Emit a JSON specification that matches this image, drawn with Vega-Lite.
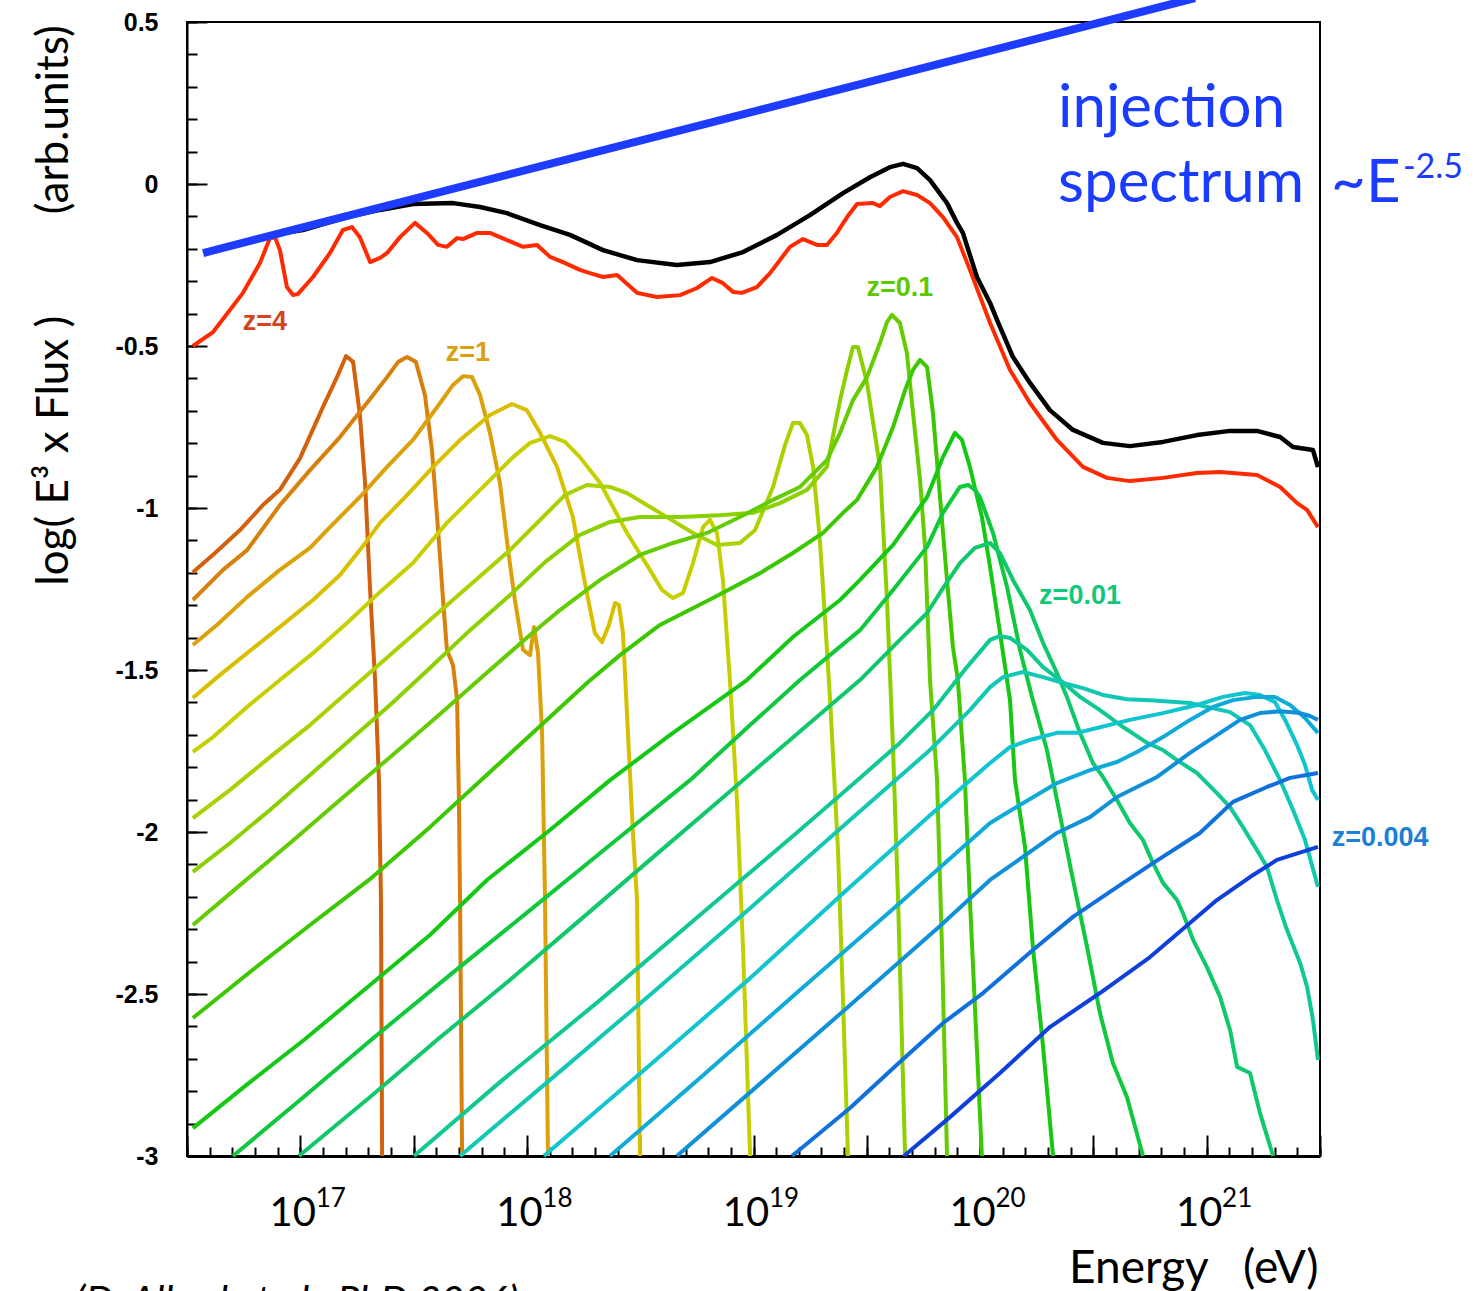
{
  "$schema": "https://vega.github.io/schema/vega-lite/v6.json",
  "width": 1133,
  "height": 1134,
  "autosize": {"type": "none"},
  "padding": {"left": 187, "top": 22, "right": 157, "bottom": 135},
  "background": "white",
  "config": {"view": {"stroke": "black", "strokeWidth": 2}, "axis": {"grid": false}},
  "resolve": {"axis": {"x": "independent", "y": "independent"}, "scale": {"color": "independent"}},
  "datasets": {
    "curves": [
      {"s":"c01","e":16.526,"f":-1.198},{"s":"c01","e":16.624,"f":-1.139},{"s":"c01","e":16.734,"f":-1.068},{"s":"c01","e":16.835,"f":-0.991},{"s":"c01","e":16.910,"f":-0.944},{"s":"c01","e":16.999,"f":-0.846},{"s":"c01","e":17.100,"f":-0.688},{"s":"c01","e":17.162,"f":-0.596},{"s":"c01","e":17.202,"f":-0.531},{"s":"c01","e":17.233,"f":-0.549},{"s":"c01","e":17.263,"f":-0.713},{"s":"c01","e":17.286,"f":-0.923},{"s":"c01","e":17.308,"f":-1.253},{"s":"c01","e":17.330,"f":-1.531},{"s":"c01","e":17.347,"f":-1.840},{"s":"c01","e":17.356,"f":-2.210},{"s":"c01","e":17.361,"f":-3.0},
      {"s":"c02","e":16.526,"f":-1.284},{"s":"c02","e":16.659,"f":-1.191},{"s":"c02","e":16.765,"f":-1.130},{"s":"c02","e":16.910,"f":-0.991},{"s":"c02","e":17.043,"f":-0.883},{"s":"c02","e":17.175,"f":-0.781},{"s":"c02","e":17.294,"f":-0.676},{"s":"c02","e":17.383,"f":-0.596},{"s":"c02","e":17.432,"f":-0.549},{"s":"c02","e":17.471,"f":-0.534},{"s":"c02","e":17.510,"f":-0.549},{"s":"c02","e":17.550,"f":-0.651},{"s":"c02","e":17.581,"f":-0.821},{"s":"c02","e":17.608,"f":-1.068},{"s":"c02","e":17.630,"f":-1.284},{"s":"c02","e":17.647,"f":-1.438},{"s":"c02","e":17.674,"f":-1.485},{"s":"c02","e":17.692,"f":-1.593},{"s":"c02","e":17.700,"f":-1.901},{"s":"c02","e":17.705,"f":-2.210},{"s":"c02","e":17.714,"f":-3.0},
      {"s":"c03","e":16.526,"f":-1.423},{"s":"c03","e":16.632,"f":-1.361},{"s":"c03","e":16.765,"f":-1.275},{"s":"c03","e":16.910,"f":-1.191},{"s":"c03","e":17.043,"f":-1.123},{"s":"c03","e":17.131,"f":-1.059},{"s":"c03","e":17.263,"f":-0.966},{"s":"c03","e":17.383,"f":-0.873},{"s":"c03","e":17.497,"f":-0.790},{"s":"c03","e":17.617,"f":-0.676},{"s":"c03","e":17.674,"f":-0.620},{"s":"c03","e":17.718,"f":-0.593},{"s":"c03","e":17.758,"f":-0.596},{"s":"c03","e":17.793,"f":-0.651},{"s":"c03","e":17.837,"f":-0.768},{"s":"c03","e":17.881,"f":-0.923},{"s":"c03","e":17.917,"f":-1.130},{"s":"c03","e":17.947,"f":-1.284},{"s":"c03","e":17.983,"f":-1.438},{"s":"c03","e":18.014,"f":-1.454},{"s":"c03","e":18.031,"f":-1.367},{"s":"c03","e":18.049,"f":-1.448},{"s":"c03","e":18.067,"f":-1.694},{"s":"c03","e":18.080,"f":-2.210},{"s":"c03","e":18.093,"f":-3.0},
      {"s":"c04","e":16.526,"f":-1.586},{"s":"c04","e":16.646,"f":-1.515},{"s":"c04","e":16.765,"f":-1.448},{"s":"c04","e":16.910,"f":-1.367},{"s":"c04","e":17.056,"f":-1.284},{"s":"c04","e":17.175,"f":-1.207},{"s":"c04","e":17.263,"f":-1.130},{"s":"c04","e":17.352,"f":-1.046},{"s":"c04","e":17.471,"f":-0.960},{"s":"c04","e":17.586,"f":-0.873},{"s":"c04","e":17.705,"f":-0.790},{"s":"c04","e":17.837,"f":-0.713},{"s":"c04","e":17.934,"f":-0.679},{"s":"c04","e":18.000,"f":-0.698},{"s":"c04","e":18.058,"f":-0.768},{"s":"c04","e":18.133,"f":-0.873},{"s":"c04","e":18.203,"f":-1.028},{"s":"c04","e":18.256,"f":-1.232},{"s":"c04","e":18.300,"f":-1.386},{"s":"c04","e":18.331,"f":-1.414},{"s":"c04","e":18.362,"f":-1.361},{"s":"c04","e":18.389,"f":-1.293},{"s":"c04","e":18.406,"f":-1.299},{"s":"c04","e":18.424,"f":-1.386},{"s":"c04","e":18.446,"f":-1.694},{"s":"c04","e":18.468,"f":-2.003},{"s":"c04","e":18.486,"f":-2.210},{"s":"c04","e":18.499,"f":-3.0},
      {"s":"c05","e":16.526,"f":-1.753},{"s":"c05","e":16.615,"f":-1.707},{"s":"c05","e":16.765,"f":-1.614},{"s":"c05","e":16.910,"f":-1.531},{"s":"c05","e":17.056,"f":-1.448},{"s":"c05","e":17.206,"f":-1.355},{"s":"c05","e":17.352,"f":-1.259},{"s":"c05","e":17.497,"f":-1.170},{"s":"c05","e":17.647,"f":-1.046},{"s":"c05","e":17.749,"f":-0.975},{"s":"c05","e":17.837,"f":-0.914},{"s":"c05","e":17.939,"f":-0.843},{"s":"c05","e":18.014,"f":-0.799},{"s":"c05","e":18.102,"f":-0.778},{"s":"c05","e":18.168,"f":-0.796},{"s":"c05","e":18.234,"f":-0.843},{"s":"c05","e":18.323,"f":-0.923},{"s":"c05","e":18.442,"f":-1.077},{"s":"c05","e":18.543,"f":-1.191},{"s":"c05","e":18.596,"f":-1.253},{"s":"c05","e":18.645,"f":-1.278},{"s":"c05","e":18.689,"f":-1.262},{"s":"c05","e":18.733,"f":-1.170},{"s":"c05","e":18.777,"f":-1.059},{"s":"c05","e":18.808,"f":-1.037},{"s":"c05","e":18.839,"f":-1.077},{"s":"c05","e":18.865,"f":-1.222},{"s":"c05","e":18.896,"f":-1.531},{"s":"c05","e":18.927,"f":-1.901},{"s":"c05","e":18.954,"f":-2.364},{"s":"c05","e":18.985,"f":-3.0},
      {"s":"c06","e":16.526,"f":-1.957},{"s":"c06","e":16.690,"f":-1.870},{"s":"c06","e":16.866,"f":-1.769},{"s":"c06","e":17.043,"f":-1.670},{"s":"c06","e":17.219,"f":-1.562},{"s":"c06","e":17.396,"f":-1.454},{"s":"c06","e":17.572,"f":-1.346},{"s":"c06","e":17.749,"f":-1.238},{"s":"c06","e":17.925,"f":-1.130},{"s":"c06","e":18.058,"f":-1.037},{"s":"c06","e":18.168,"f":-0.960},{"s":"c06","e":18.265,"f":-0.929},{"s":"c06","e":18.367,"f":-0.935},{"s":"c06","e":18.442,"f":-0.954},{"s":"c06","e":18.587,"f":-1.015},{"s":"c06","e":18.733,"f":-1.077},{"s":"c06","e":18.839,"f":-1.114},{"s":"c06","e":18.940,"f":-1.108},{"s":"c06","e":19.007,"f":-1.068},{"s":"c06","e":19.086,"f":-0.935},{"s":"c06","e":19.139,"f":-0.806},{"s":"c06","e":19.174,"f":-0.738},{"s":"c06","e":19.205,"f":-0.738},{"s":"c06","e":19.236,"f":-0.775},{"s":"c06","e":19.263,"f":-0.873},{"s":"c06","e":19.293,"f":-1.099},{"s":"c06","e":19.316,"f":-1.346},{"s":"c06","e":19.338,"f":-1.593},{"s":"c06","e":19.373,"f":-2.056},{"s":"c06","e":19.395,"f":-2.519},{"s":"c06","e":19.417,"f":-3.0},
      {"s":"c07","e":16.526,"f":-2.123},{"s":"c07","e":16.690,"f":-2.034},{"s":"c07","e":16.866,"f":-1.932},{"s":"c07","e":17.043,"f":-1.824},{"s":"c07","e":17.219,"f":-1.716},{"s":"c07","e":17.396,"f":-1.608},{"s":"c07","e":17.572,"f":-1.494},{"s":"c07","e":17.749,"f":-1.377},{"s":"c07","e":17.925,"f":-1.269},{"s":"c07","e":18.080,"f":-1.167},{"s":"c07","e":18.234,"f":-1.083},{"s":"c07","e":18.367,"f":-1.043},{"s":"c07","e":18.499,"f":-1.028},{"s":"c07","e":18.676,"f":-1.028},{"s":"c07","e":18.852,"f":-1.022},{"s":"c07","e":18.998,"f":-1.015},{"s":"c07","e":19.117,"f":-0.985},{"s":"c07","e":19.236,"f":-0.944},{"s":"c07","e":19.324,"f":-0.873},{"s":"c07","e":19.382,"f":-0.667},{"s":"c07","e":19.413,"f":-0.574},{"s":"c07","e":19.439,"f":-0.503},{"s":"c07","e":19.461,"f":-0.503},{"s":"c07","e":19.501,"f":-0.614},{"s":"c07","e":19.558,"f":-0.873},{"s":"c07","e":19.589,"f":-1.284},{"s":"c07","e":19.616,"f":-1.747},{"s":"c07","e":19.638,"f":-2.210},{"s":"c07","e":19.669,"f":-3.0},
      {"s":"c08","e":16.526,"f":-2.287},{"s":"c08","e":16.734,"f":-2.164},{"s":"c08","e":16.955,"f":-2.034},{"s":"c08","e":17.175,"f":-1.901},{"s":"c08","e":17.396,"f":-1.769},{"s":"c08","e":17.617,"f":-1.636},{"s":"c08","e":17.837,"f":-1.500},{"s":"c08","e":18.014,"f":-1.392},{"s":"c08","e":18.146,"f":-1.315},{"s":"c08","e":18.323,"f":-1.222},{"s":"c08","e":18.499,"f":-1.145},{"s":"c08","e":18.645,"f":-1.108},{"s":"c08","e":18.795,"f":-1.077},{"s":"c08","e":18.940,"f":-1.028},{"s":"c08","e":19.086,"f":-0.975},{"s":"c08","e":19.205,"f":-0.935},{"s":"c08","e":19.324,"f":-0.852},{"s":"c08","e":19.382,"f":-0.768},{"s":"c08","e":19.439,"f":-0.667},{"s":"c08","e":19.501,"f":-0.596},{"s":"c08","e":19.558,"f":-0.491},{"s":"c08","e":19.589,"f":-0.426},{"s":"c08","e":19.611,"f":-0.404},{"s":"c08","e":19.646,"f":-0.429},{"s":"c08","e":19.677,"f":-0.522},{"s":"c08","e":19.704,"f":-0.707},{"s":"c08","e":19.735,"f":-0.914},{"s":"c08","e":19.757,"f":-1.120},{"s":"c08","e":19.779,"f":-1.531},{"s":"c08","e":19.810,"f":-1.840},{"s":"c08","e":19.832,"f":-2.364},{"s":"c08","e":19.854,"f":-3.0},
      {"s":"c09","e":16.526,"f":-2.574},{"s":"c09","e":16.778,"f":-2.432},{"s":"c09","e":17.043,"f":-2.287},{"s":"c09","e":17.303,"f":-2.148},{"s":"c09","e":17.572,"f":-1.985},{"s":"c09","e":17.837,"f":-1.815},{"s":"c09","e":18.102,"f":-1.645},{"s":"c09","e":18.265,"f":-1.540},{"s":"c09","e":18.411,"f":-1.454},{"s":"c09","e":18.587,"f":-1.361},{"s":"c09","e":18.821,"f":-1.278},{"s":"c09","e":19.029,"f":-1.201},{"s":"c09","e":19.174,"f":-1.139},{"s":"c09","e":19.307,"f":-1.077},{"s":"c09","e":19.395,"f":-1.015},{"s":"c09","e":19.457,"f":-0.975},{"s":"c09","e":19.545,"f":-0.873},{"s":"c09","e":19.616,"f":-0.750},{"s":"c09","e":19.669,"f":-0.636},{"s":"c09","e":19.704,"f":-0.574},{"s":"c09","e":19.735,"f":-0.543},{"s":"c09","e":19.766,"f":-0.565},{"s":"c09","e":19.792,"f":-0.707},{"s":"c09","e":19.823,"f":-0.966},{"s":"c09","e":19.854,"f":-1.222},{"s":"c09","e":19.880,"f":-1.429},{"s":"c09","e":19.902,"f":-1.531},{"s":"c09","e":19.933,"f":-1.840},{"s":"c09","e":19.955,"f":-2.210},{"s":"c09","e":19.982,"f":-2.611},{"s":"c09","e":20.008,"f":-3.0},
      {"s":"c10","e":16.526,"f":-2.914},{"s":"c10","e":16.778,"f":-2.772},{"s":"c10","e":17.016,"f":-2.642},{"s":"c10","e":17.308,"f":-2.472},{"s":"c10","e":17.572,"f":-2.318},{"s":"c10","e":17.824,"f":-2.148},{"s":"c10","e":18.102,"f":-1.994},{"s":"c10","e":18.367,"f":-1.840},{"s":"c10","e":18.631,"f":-1.701},{"s":"c10","e":18.971,"f":-1.531},{"s":"c10","e":19.174,"f":-1.398},{"s":"c10","e":19.382,"f":-1.284},{"s":"c10","e":19.470,"f":-1.222},{"s":"c10","e":19.616,"f":-1.114},{"s":"c10","e":19.766,"f":-0.966},{"s":"c10","e":19.836,"f":-0.843},{"s":"c10","e":19.889,"f":-0.768},{"s":"c10","e":19.920,"f":-0.790},{"s":"c10","e":19.955,"f":-0.873},{"s":"c10","e":20.008,"f":-1.028},{"s":"c10","e":20.044,"f":-1.182},{"s":"c10","e":20.088,"f":-1.386},{"s":"c10","e":20.132,"f":-1.593},{"s":"c10","e":20.154,"f":-1.840},{"s":"c10","e":20.198,"f":-2.046},{"s":"c10","e":20.233,"f":-2.355},{"s":"c10","e":20.278,"f":-2.664},{"s":"c10","e":20.322,"f":-3.0},
      {"s":"c11","e":16.703,"f":-3.0},{"s":"c11","e":16.999,"f":-2.827},{"s":"c11","e":17.312,"f":-2.642},{"s":"c11","e":17.661,"f":-2.441},{"s":"c11","e":18.014,"f":-2.241},{"s":"c11","e":18.367,"f":-2.040},{"s":"c11","e":18.720,"f":-1.840},{"s":"c11","e":18.985,"f":-1.670},{"s":"c11","e":19.205,"f":-1.531},{"s":"c11","e":19.470,"f":-1.377},{"s":"c11","e":19.616,"f":-1.253},{"s":"c11","e":19.766,"f":-1.120},{"s":"c11","e":19.836,"f":-1.015},{"s":"c11","e":19.911,"f":-0.935},{"s":"c11","e":19.947,"f":-0.929},{"s":"c11","e":19.977,"f":-0.944},{"s":"c11","e":19.999,"f":-0.966},{"s":"c11","e":20.057,"f":-1.077},{"s":"c11","e":20.119,"f":-1.244},{"s":"c11","e":20.176,"f":-1.438},{"s":"c11","e":20.233,"f":-1.593},{"s":"c11","e":20.295,"f":-1.747},{"s":"c11","e":20.339,"f":-1.901},{"s":"c11","e":20.410,"f":-2.148},{"s":"c11","e":20.472,"f":-2.355},{"s":"c11","e":20.529,"f":-2.559},{"s":"c11","e":20.586,"f":-2.713},{"s":"c11","e":20.648,"f":-2.818},{"s":"c11","e":20.719,"f":-3.0},
      {"s":"c12","e":16.994,"f":-3.0},{"s":"c12","e":17.308,"f":-2.818},{"s":"c12","e":17.603,"f":-2.642},{"s":"c12","e":17.925,"f":-2.457},{"s":"c12","e":18.234,"f":-2.272},{"s":"c12","e":18.543,"f":-2.086},{"s":"c12","e":18.852,"f":-1.901},{"s":"c12","e":19.161,"f":-1.716},{"s":"c12","e":19.470,"f":-1.531},{"s":"c12","e":19.646,"f":-1.407},{"s":"c12","e":19.766,"f":-1.324},{"s":"c12","e":19.845,"f":-1.238},{"s":"c12","e":19.911,"f":-1.170},{"s":"c12","e":19.977,"f":-1.123},{"s":"c12","e":20.044,"f":-1.108},{"s":"c12","e":20.088,"f":-1.139},{"s":"c12","e":20.145,"f":-1.222},{"s":"c12","e":20.220,"f":-1.315},{"s":"c12","e":20.278,"f":-1.417},{"s":"c12","e":20.339,"f":-1.509},{"s":"c12","e":20.383,"f":-1.583},{"s":"c12","e":20.441,"f":-1.694},{"s":"c12","e":20.498,"f":-1.787},{"s":"c12","e":20.542,"f":-1.830},{"s":"c12","e":20.604,"f":-1.901},{"s":"c12","e":20.661,"f":-1.972},{"s":"c12","e":20.719,"f":-2.025},{"s":"c12","e":20.763,"f":-2.096},{"s":"c12","e":20.807,"f":-2.157},{"s":"c12","e":20.869,"f":-2.210},{"s":"c12","e":20.895,"f":-2.250},{"s":"c12","e":20.940,"f":-2.333},{"s":"c12","e":21.001,"f":-2.417},{"s":"c12","e":21.059,"f":-2.509},{"s":"c12","e":21.103,"f":-2.611},{"s":"c12","e":21.134,"f":-2.725},{"s":"c12","e":21.191,"f":-2.744},{"s":"c12","e":21.235,"f":-2.867},{"s":"c12","e":21.293,"f":-3.0},
      {"s":"c13","e":17.502,"f":-3.0},{"s":"c13","e":17.881,"f":-2.772},{"s":"c13","e":18.323,"f":-2.519},{"s":"c13","e":18.764,"f":-2.256},{"s":"c13","e":19.205,"f":-1.994},{"s":"c13","e":19.470,"f":-1.833},{"s":"c13","e":19.646,"f":-1.725},{"s":"c13","e":19.792,"f":-1.624},{"s":"c13","e":19.942,"f":-1.491},{"s":"c13","e":20.044,"f":-1.407},{"s":"c13","e":20.088,"f":-1.395},{"s":"c13","e":20.132,"f":-1.401},{"s":"c13","e":20.207,"f":-1.438},{"s":"c13","e":20.278,"f":-1.491},{"s":"c13","e":20.353,"f":-1.531},{"s":"c13","e":20.441,"f":-1.583},{"s":"c13","e":20.529,"f":-1.624},{"s":"c13","e":20.631,"f":-1.676},{"s":"c13","e":20.737,"f":-1.725},{"s":"c13","e":20.807,"f":-1.747},{"s":"c13","e":20.869,"f":-1.778},{"s":"c13","e":20.957,"f":-1.818},{"s":"c13","e":21.045,"f":-1.880},{"s":"c13","e":21.103,"f":-1.923},{"s":"c13","e":21.160,"f":-1.985},{"s":"c13","e":21.222,"f":-2.056},{"s":"c13","e":21.266,"f":-2.108},{"s":"c13","e":21.310,"f":-2.210},{"s":"c13","e":21.354,"f":-2.302},{"s":"c13","e":21.412,"f":-2.404},{"s":"c13","e":21.443,"f":-2.478},{"s":"c13","e":21.469,"f":-2.580},{"s":"c13","e":21.491,"f":-2.704},
      {"s":"c14","e":17.705,"f":-3.0},{"s":"c14","e":18.102,"f":-2.765},{"s":"c14","e":18.543,"f":-2.503},{"s":"c14","e":18.985,"f":-2.235},{"s":"c14","e":19.426,"f":-1.963},{"s":"c14","e":19.779,"f":-1.747},{"s":"c14","e":19.955,"f":-1.624},{"s":"c14","e":20.044,"f":-1.553},{"s":"c14","e":20.101,"f":-1.522},{"s":"c14","e":20.189,"f":-1.506},{"s":"c14","e":20.278,"f":-1.522},{"s":"c14","e":20.366,"f":-1.540},{"s":"c14","e":20.454,"f":-1.556},{"s":"c14","e":20.542,"f":-1.577},{"s":"c14","e":20.648,"f":-1.590},{"s":"c14","e":20.750,"f":-1.593},{"s":"c14","e":20.926,"f":-1.602},{"s":"c14","e":21.103,"f":-1.630},{"s":"c14","e":21.191,"f":-1.670},{"s":"c14","e":21.257,"f":-1.747},{"s":"c14","e":21.324,"f":-1.840},{"s":"c14","e":21.381,"f":-1.932},{"s":"c14","e":21.434,"f":-2.025},{"s":"c14","e":21.491,"f":-2.170},
      {"s":"c15","e":18.075,"f":-3.0},{"s":"c15","e":18.543,"f":-2.719},{"s":"c15","e":18.985,"f":-2.451},{"s":"c15","e":19.426,"f":-2.170},{"s":"c15","e":19.779,"f":-1.948},{"s":"c15","e":20.044,"f":-1.787},{"s":"c15","e":20.132,"f":-1.738},{"s":"c15","e":20.220,"f":-1.716},{"s":"c15","e":20.339,"f":-1.694},{"s":"c15","e":20.428,"f":-1.694},{"s":"c15","e":20.516,"f":-1.679},{"s":"c15","e":20.661,"f":-1.654},{"s":"c15","e":20.807,"f":-1.633},{"s":"c15","e":20.957,"f":-1.608},{"s":"c15","e":21.072,"f":-1.583},{"s":"c15","e":21.169,"f":-1.571},{"s":"c15","e":21.235,"f":-1.577},{"s":"c15","e":21.301,"f":-1.599},{"s":"c15","e":21.346,"f":-1.654},{"s":"c15","e":21.399,"f":-1.732},{"s":"c15","e":21.434,"f":-1.793},{"s":"c15","e":21.465,"f":-1.870},{"s":"c15","e":21.491,"f":-1.901},
      {"s":"c16","e":18.367,"f":-3.0},{"s":"c16","e":18.764,"f":-2.759},{"s":"c16","e":19.205,"f":-2.488},{"s":"c16","e":19.646,"f":-2.219},{"s":"c16","e":20.044,"f":-1.972},{"s":"c16","e":20.189,"f":-1.911},{"s":"c16","e":20.339,"f":-1.849},{"s":"c16","e":20.485,"f":-1.809},{"s":"c16","e":20.604,"f":-1.784},{"s":"c16","e":20.692,"f":-1.753},{"s":"c16","e":20.807,"f":-1.707},{"s":"c16","e":20.926,"f":-1.654},{"s":"c16","e":21.028,"f":-1.614},{"s":"c16","e":21.116,"f":-1.593},{"s":"c16","e":21.222,"f":-1.583},{"s":"c16","e":21.301,"f":-1.583},{"s":"c16","e":21.368,"f":-1.608},{"s":"c16","e":21.434,"f":-1.648},{"s":"c16","e":21.491,"f":-1.694},
      {"s":"c17","e":18.662,"f":-3.0},{"s":"c17","e":19.073,"f":-2.750},{"s":"c17","e":19.514,"f":-2.481},{"s":"c17","e":19.823,"f":-2.290},{"s":"c17","e":20.044,"f":-2.148},{"s":"c17","e":20.189,"f":-2.077},{"s":"c17","e":20.339,"f":-2.003},{"s":"c17","e":20.485,"f":-1.954},{"s":"c17","e":20.604,"f":-1.892},{"s":"c17","e":20.781,"f":-1.830},{"s":"c17","e":20.926,"f":-1.756},{"s":"c17","e":21.045,"f":-1.701},{"s":"c17","e":21.147,"f":-1.654},{"s":"c17","e":21.235,"f":-1.633},{"s":"c17","e":21.324,"f":-1.627},{"s":"c17","e":21.412,"f":-1.633},{"s":"c17","e":21.456,"f":-1.642},{"s":"c17","e":21.491,"f":-1.654},
      {"s":"c18","e":19.170,"f":-3.0},{"s":"c18","e":19.426,"f":-2.852},{"s":"c18","e":19.646,"f":-2.710},{"s":"c18","e":19.836,"f":-2.590},{"s":"c18","e":20.013,"f":-2.497},{"s":"c18","e":20.233,"f":-2.364},{"s":"c18","e":20.410,"f":-2.262},{"s":"c18","e":20.604,"f":-2.170},{"s":"c18","e":20.763,"f":-2.096},{"s":"c18","e":20.970,"f":-2.003},{"s":"c18","e":21.116,"f":-1.907},{"s":"c18","e":21.266,"f":-1.861},{"s":"c18","e":21.368,"f":-1.833},{"s":"c18","e":21.491,"f":-1.818},
      {"s":"c19","e":19.664,"f":-3.0},{"s":"c19","e":19.867,"f":-2.880},{"s":"c19","e":20.088,"f":-2.744},{"s":"c19","e":20.308,"f":-2.602},{"s":"c19","e":20.529,"f":-2.497},{"s":"c19","e":20.750,"f":-2.386},{"s":"c19","e":20.926,"f":-2.281},{"s":"c19","e":21.045,"f":-2.210},{"s":"c19","e":21.191,"f":-2.139},{"s":"c19","e":21.310,"f":-2.086},{"s":"c19","e":21.491,"f":-2.046}
    ],
    "red": [
      {"e":16.526,"f":-0.500},{"e":16.615,"f":-0.457},{"e":16.747,"f":-0.336},{"e":16.822,"f":-0.244},{"e":16.866,"f":-0.167},{"e":16.888,"f":-0.164},{"e":16.910,"f":-0.204},{"e":16.941,"f":-0.318},{"e":16.968,"f":-0.343},{"e":16.990,"f":-0.339},{"e":17.056,"f":-0.287},{"e":17.131,"f":-0.213},{"e":17.188,"f":-0.142},{"e":17.228,"f":-0.133},{"e":17.263,"f":-0.164},{"e":17.308,"f":-0.241},{"e":17.352,"f":-0.228},{"e":17.383,"f":-0.213},{"e":17.440,"f":-0.164},{"e":17.506,"f":-0.120},{"e":17.559,"f":-0.151},{"e":17.608,"f":-0.188},{"e":17.647,"f":-0.194},{"e":17.692,"f":-0.167},{"e":17.718,"f":-0.170},{"e":17.780,"f":-0.151},{"e":17.837,"f":-0.151},{"e":17.912,"f":-0.173},{"e":17.983,"f":-0.194},{"e":18.045,"f":-0.188},{"e":18.102,"f":-0.225},{"e":18.159,"f":-0.241},{"e":18.234,"f":-0.265},{"e":18.278,"f":-0.275},{"e":18.336,"f":-0.287},{"e":18.398,"f":-0.281},{"e":18.486,"f":-0.336},{"e":18.574,"f":-0.349},{"e":18.676,"f":-0.343},{"e":18.751,"f":-0.321},{"e":18.817,"f":-0.290},{"e":18.865,"f":-0.306},{"e":18.910,"f":-0.333},{"e":18.949,"f":-0.336},{"e":19.015,"f":-0.318},{"e":19.073,"f":-0.275},{"e":19.161,"f":-0.194},{"e":19.218,"f":-0.170},{"e":19.280,"f":-0.188},{"e":19.324,"f":-0.188},{"e":19.368,"f":-0.151},{"e":19.413,"f":-0.102},{"e":19.457,"f":-0.062},{"e":19.527,"f":-0.059},{"e":19.558,"f":-0.068},{"e":19.602,"f":-0.040},{"e":19.660,"f":-0.022},{"e":19.722,"f":-0.034},{"e":19.779,"f":-0.059},{"e":19.836,"f":-0.102},{"e":19.898,"f":-0.164},{"e":19.955,"f":-0.265},{"e":20.044,"f":-0.429},{"e":20.132,"f":-0.574},{"e":20.220,"f":-0.676},{"e":20.339,"f":-0.790},{"e":20.454,"f":-0.873},{"e":20.560,"f":-0.907},{"e":20.661,"f":-0.917},{"e":20.807,"f":-0.907},{"e":20.957,"f":-0.892},{"e":21.059,"f":-0.889},{"e":21.222,"f":-0.898},{"e":21.324,"f":-0.935},{"e":21.399,"f":-0.985},{"e":21.443,"f":-1.006},{"e":21.491,"f":-1.059}
    ],
    "black": [
      {"e":16.955,"f":-0.148},{"e":17.012,"f":-0.142},{"e":17.206,"f":-0.102},{"e":17.352,"f":-0.080},{"e":17.497,"f":-0.062},{"e":17.674,"f":-0.059},{"e":17.793,"f":-0.071},{"e":17.912,"f":-0.090},{"e":18.058,"f":-0.127},{"e":18.190,"f":-0.157},{"e":18.336,"f":-0.204},{"e":18.486,"f":-0.235},{"e":18.662,"f":-0.250},{"e":18.808,"f":-0.241},{"e":18.954,"f":-0.210},{"e":19.104,"f":-0.157},{"e":19.249,"f":-0.096},{"e":19.395,"f":-0.028},{"e":19.514,"f":0.021},{"e":19.602,"f":0.052},{"e":19.660,"f":0.062},{"e":19.722,"f":0.049},{"e":19.779,"f":0.012},{"e":19.854,"f":-0.059},{"e":19.898,"f":-0.120},{"e":19.924,"f":-0.151},{"e":19.986,"f":-0.287},{"e":20.044,"f":-0.367},{"e":20.075,"f":-0.420},{"e":20.145,"f":-0.534},{"e":20.220,"f":-0.614},{"e":20.308,"f":-0.698},{"e":20.410,"f":-0.759},{"e":20.542,"f":-0.799},{"e":20.661,"f":-0.809},{"e":20.807,"f":-0.796},{"e":20.957,"f":-0.775},{"e":21.103,"f":-0.762},{"e":21.222,"f":-0.762},{"e":21.324,"f":-0.781},{"e":21.381,"f":-0.812},{"e":21.469,"f":-0.821},{"e":21.491,"f":-0.874}
    ],
    "injection": [
      {"e":16.571,"f":-0.213},{"e":20.948,"f":0.574}
    ]
  },
  "layer": [
    {
      "data": {"name": "curves"},
      "mark": {"type": "line", "strokeWidth": 4, "strokeJoin": "round"},
      "encoding": {
        "x": {"field": "e", "type": "quantitative", "scale": {"domain": [16.5, 21.5], "nice": false, "zero": false},
          "axis": {"orient": "bottom", "values": [16.5,16.6,16.7,16.8,16.9,17,17.1,17.2,17.3,17.4,17.5,17.6,17.7,17.8,17.9,18,18.1,18.2,18.3,18.4,18.5,18.6,18.7,18.8,18.9,19,19.1,19.2,19.3,19.4,19.5,19.6,19.7,19.8,19.9,20,20.1,20.2,20.3,20.4,20.5,20.6,20.7,20.8,20.9,21,21.1,21.2,21.3,21.4,21.5],
            "tickSize": 9, "offset": -9, "tickWidth": 2, "tickColor": "black", "labels": false, "domain": false, "title": null, "grid": false}},
        "y": {"field": "f", "type": "quantitative", "scale": {"domain": [-3, 0.5], "nice": false, "zero": false},
          "axis": {"orient": "left", "values": [-3,-2.9,-2.8,-2.7,-2.6,-2.5,-2.4,-2.3,-2.2,-2.1,-2,-1.9,-1.8,-1.7,-1.6,-1.5,-1.4,-1.3,-1.2,-1.1,-1,-0.9,-0.8,-0.7,-0.6,-0.5,-0.4,-0.3,-0.2,-0.1,0,0.1,0.2,0.3,0.4,0.5],
            "tickSize": 10, "offset": -10, "tickWidth": 2, "tickColor": "black", "labels": false, "domain": false, "title": null, "grid": false}},
        "color": {"field": "s", "type": "nominal", "legend": null,
          "scale": {"domain": ["c01","c02","c03","c04","c05","c06","c07","c08","c09","c10","c11","c12","c13","c14","c15","c16","c17","c18","c19"],
            "range": ["#d2600c","#d9800c","#dba00a","#d8c000","#c6d000","#a8d200","#8cd000","#64cc00","#3cc800","#14c814","#10c83c","#10c86c","#10c894","#10c8b4","#10c4d0","#10aad8","#1090d8","#1070dc","#1040dc"]}}
      }
    },
    {
      "data": {"name": "red"},
      "mark": {"type": "line", "strokeWidth": 4, "color": "#ff2a00", "strokeJoin": "round"},
      "encoding": {
        "x": {"field": "e", "type": "quantitative", "scale": {"domain": [16.5, 21.5], "nice": false, "zero": false},
          "axis": {"orient": "bottom", "values": [16.5,17,17.5,18,18.5,19,19.5,20,20.5,21,21.5], "tickSize": 21, "offset": -21, "tickWidth": 2, "tickColor": "black", "labels": false, "domain": false, "title": null, "grid": false}},
        "y": {"field": "f", "type": "quantitative", "scale": {"domain": [-3, 0.5], "nice": false, "zero": false},
          "axis": {"orient": "left", "values": [-3,-2.5,-2,-1.5,-1,-0.5,0,0.5], "tickSize": 20, "offset": -20, "tickWidth": 2, "tickColor": "black", "labels": false, "domain": false, "title": null, "grid": false}}
      }
    },
    {
      "data": {"name": "black"},
      "mark": {"type": "line", "strokeWidth": 4.5, "color": "black", "strokeJoin": "round"},
      "encoding": {
        "x": {"field": "e", "type": "quantitative", "scale": {"domain": [16.5, 21.5], "nice": false, "zero": false},
          "axis": {"orient": "bottom", "values": [17,18,19,20,21], "ticks": false, "tickSize": 0, "domain": true, "domainColor": "black", "domainWidth": 3,
            "labelExpr": "'10'", "labelFont": "Lato", "labelFontSize": 40, "labelColor": "black", "labelPadding": 69, "labelBaseline": "alphabetic", "labelOffset": -8, "labelFlush": false, "labelOverlap": false,
            "title": "Energy\u00a0\u00a0\u00a0(eV)", "titleFont": "Lato", "titleFontSize": 46, "titleFontWeight": "normal", "titleColor": "black", "titleX": 1131, "titleY": 126, "titleAlign": "right", "titleBaseline": "alphabetic", "grid": false}},
        "y": {"field": "f", "type": "quantitative", "scale": {"domain": [-3, 0.5], "nice": false, "zero": false},
          "axis": {"orient": "left", "values": [-3,-2.5,-2,-1.5,-1,-0.5,0,0.5], "ticks": false, "tickSize": 0, "domain": true, "domainColor": "black", "domainWidth": 2,
            "labelExpr": "(datum.value < 0 ? '-' : '') + abs(datum.value)", "labelFont": "Liberation Sans", "labelFontWeight": "bold", "labelFontSize": 25, "labelColor": "black", "labelPadding": 29, "labelFlush": false, "labelOverlap": false,
            "title": "log( E³ x Flux )\u00a0\u00a0\u00a0\u00a0\u00a0\u00a0\u00a0\u00a0\u00a0(arb.units)", "titleFont": "Lato", "titleFontSize": 44, "titleFontWeight": "normal", "titleColor": "black", "titleAngle": 270, "titleX": -133, "titleY": 283, "titleAlign": "center", "titleBaseline": "middle", "grid": false}}
      }
    },
    {
      "data": {"name": "injection"},
      "mark": {"type": "line", "strokeWidth": 8, "color": "#1e3cff", "strokeCap": "butt"},
      "encoding": {
        "x": {"field": "e", "type": "quantitative", "scale": {"domain": [16.5, 21.5], "nice": false, "zero": false},
          "axis": {"orient": "bottom", "values": [17,18,19,20,21], "ticks": false, "tickSize": 0, "domain": false,
            "labelExpr": "format(datum.value, 'd')", "labelFont": "Lato", "labelFontSize": 26, "labelColor": "black", "labelPadding": 50, "labelBaseline": "alphabetic", "labelOffset": 30, "labelFlush": false, "labelOverlap": false, "title": null, "grid": false}},
        "y": {"field": "f", "type": "quantitative", "scale": {"domain": [-3, 0.5], "nice": false, "zero": false}, "axis": null}
      }
    },
    {
      "data": {"values": [
        {"t": "z=4", "e": 16.844, "f": -0.426},
        {"t": "z=1", "e": 17.740, "f": -0.522},
        {"t": "z=0.1", "e": 19.646, "f": -0.321},
        {"t": "z=0.01", "e": 20.441, "f": -1.272},
        {"t": "z=0.004", "e": 21.765, "f": -2.019}
      ]},
      "mark": {"type": "text", "font": "Liberation Sans", "fontWeight": "bold", "fontSize": 27, "align": "center", "baseline": "middle"},
      "encoding": {
        "x": {"field": "e", "type": "quantitative", "scale": {"domain": [16.5, 21.5], "nice": false, "zero": false}, "axis": null},
        "y": {"field": "f", "type": "quantitative", "scale": {"domain": [-3, 0.5], "nice": false, "zero": false}, "axis": null},
        "text": {"field": "t"},
        "color": {"field": "t", "type": "nominal", "legend": null,
          "scale": {"domain": ["z=4","z=1","z=0.1","z=0.01","z=0.004"], "range": ["#d2441a","#d9a010","#5cc800","#10c878","#1a80d8"]}}
      }
    },
    {
      "data": {"values": [
        {"t": "injection", "e": 20.344, "f": 0.176},
        {"t": "spectrum", "e": 20.344, "f": -0.056},
        {"t": "~E", "e": 21.549, "f": -0.056}
      ]},
      "mark": {"type": "text", "font": "Lato", "fontSize": 60, "align": "left", "baseline": "alphabetic", "color": "#1a3cff"},
      "encoding": {
        "x": {"field": "e", "type": "quantitative", "scale": {"domain": [16.5, 21.5], "nice": false, "zero": false}, "axis": null},
        "y": {"field": "f", "type": "quantitative", "scale": {"domain": [-3, 0.5], "nice": false, "zero": false}, "axis": null},
        "text": {"field": "t"}
      }
    },
    {
      "data": {"values": [{"t": "-2.5", "e": 21.866, "f": 0.0185}]},
      "mark": {"type": "text", "font": "Lato", "fontSize": 34, "align": "left", "baseline": "alphabetic", "color": "#1a3cff"},
      "encoding": {
        "x": {"field": "e", "type": "quantitative", "scale": {"domain": [16.5, 21.5], "nice": false, "zero": false}, "axis": null},
        "y": {"field": "f", "type": "quantitative", "scale": {"domain": [-3, 0.5], "nice": false, "zero": false}, "axis": null},
        "text": {"field": "t"}
      }
    },
    {
      "data": {"values": [{"t": "(D. Allard et al., PhD 2006)", "e": 16.006, "f": -3.491}]},
      "mark": {"type": "text", "font": "Lato", "fontSize": 40, "fontStyle": "italic", "align": "left", "baseline": "alphabetic", "color": "black"},
      "encoding": {
        "x": {"field": "e", "type": "quantitative", "scale": {"domain": [16.5, 21.5], "nice": false, "zero": false}, "axis": null},
        "y": {"field": "f", "type": "quantitative", "scale": {"domain": [-3, 0.5], "nice": false, "zero": false}, "axis": null},
        "text": {"field": "t"}
      }
    }
  ]
}
